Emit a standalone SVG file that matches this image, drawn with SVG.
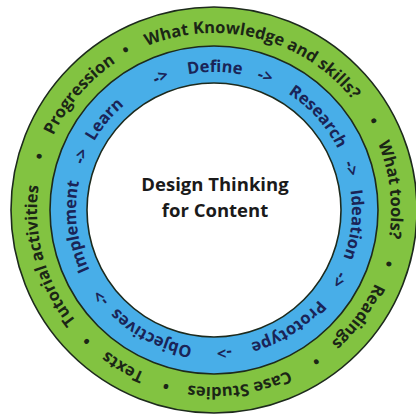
<svg xmlns="http://www.w3.org/2000/svg" xmlns:xlink="http://www.w3.org/1999/xlink" width="416" height="416" viewBox="0 0 416 416">
<style>
.ring{stroke:#1d2a1d;stroke-width:1.6}
.gt{font-family:"Open Sans","Liberation Sans",sans-serif;font-weight:bold;font-size:16.5px;fill:#1b2616;text-anchor:middle}
.bt{font-family:"Open Sans","Liberation Sans",sans-serif;font-weight:bold;font-size:16.5px;fill:#1a2457;text-anchor:middle}
.ct{font-family:"Open Sans","Liberation Sans",sans-serif;font-weight:bold;font-size:18.5px;fill:#1a1a1a;text-anchor:middle}
</style>
<defs>
<path id="gp" d="M214,33 A177,177 0 1 1 214,387 A177,177 0 1 1 214,33 A177,177 0 1 1 214,387 A177,177 0 1 1 214,33" fill="none"/>
<path id="bp" d="M214,72 A138,138 0 1 1 214,348 A138,138 0 1 1 214,72 A138,138 0 1 1 214,348 A138,138 0 1 1 214,72" fill="none"/>
</defs>
<rect width="416" height="416" fill="#ffffff"/>
<g id="rings">
<circle class="ring" cx="214" cy="210" r="203" fill="#82c341"/>
<circle class="ring" cx="214" cy="210" r="164" fill="#48aee8"/>
<circle class="ring" cx="214" cy="210" r="127" fill="#ffffff"/>
</g>
<g id="outer-ring">
<text class="gt"><textPath xlink:href="#gp" startOffset="959.2">Progression</textPath></text>
<text class="gt"><textPath xlink:href="#gp" startOffset="1022.5">•</textPath></text>
<text class="gt"><textPath xlink:href="#gp" startOffset="1156.9">What Knowledge and skills?</textPath></text>
<text class="gt"><textPath xlink:href="#gp" startOffset="1299.6">•</textPath></text>
<text class="gt"><textPath xlink:href="#gp" startOffset="1369.4">What tools?</textPath></text>
<text class="gt"><textPath xlink:href="#gp" startOffset="1442.7">•</textPath></text>
<text class="gt"><textPath xlink:href="#gp" startOffset="1502.3">Readings</textPath></text>
<text class="gt"><textPath xlink:href="#gp" startOffset="1562.5">•</textPath></text>
<text class="gt"><textPath xlink:href="#gp" startOffset="1641.9">Case Studies</textPath></text>
<text class="gt"><textPath xlink:href="#gp" startOffset="1714.5">•</textPath></text>
<text class="gt"><textPath xlink:href="#gp" startOffset="648.7">Texts</textPath></text>
<text class="gt"><textPath xlink:href="#gp" startOffset="692.0">•</textPath></text>
<text class="gt"><textPath xlink:href="#gp" startOffset="785.9">Tutorial activities</textPath></text>
<text class="gt"><textPath xlink:href="#gp" startOffset="886.6">•</textPath></text>
</g>
<g id="inner-ring">
<text class="bt"><textPath xlink:href="#bp" startOffset="745.4">Learn</textPath></text>
<text class="bt"><textPath xlink:href="#bp" startOffset="814.1">-&gt;</textPath></text>
<text class="bt"><textPath xlink:href="#bp" startOffset="867.5">Define</textPath></text>
<text class="bt"><textPath xlink:href="#bp" startOffset="917.2">-&gt;</textPath></text>
<text class="bt"><textPath xlink:href="#bp" startOffset="982.5">Research</textPath></text>
<text class="bt"><textPath xlink:href="#bp" startOffset="1042.9">-&gt;</textPath></text>
<text class="bt"><textPath xlink:href="#bp" startOffset="1098.1">Ideation</textPath></text>
<text class="bt"><textPath xlink:href="#bp" startOffset="1153.7">-&gt;</textPath></text>
<text class="bt"><textPath xlink:href="#bp" startOffset="1222.1">Prototype</textPath></text>
<text class="bt"><textPath xlink:href="#bp" startOffset="1290.2">-&gt;</textPath></text>
<text class="bt"><textPath xlink:href="#bp" startOffset="498.1">Objectives</textPath></text>
<text class="bt"><textPath xlink:href="#bp" startOffset="558.8">-&gt;</textPath></text>
<text class="bt"><textPath xlink:href="#bp" startOffset="633.4">Implement</textPath></text>
<text class="bt"><textPath xlink:href="#bp" startOffset="703.3">-&gt;</textPath></text>
</g>
<g id="center">
<text class="ct" x="215" y="191">Design Thinking</text>
<text class="ct" x="215" y="217">for Content</text>
</g>
</svg>
